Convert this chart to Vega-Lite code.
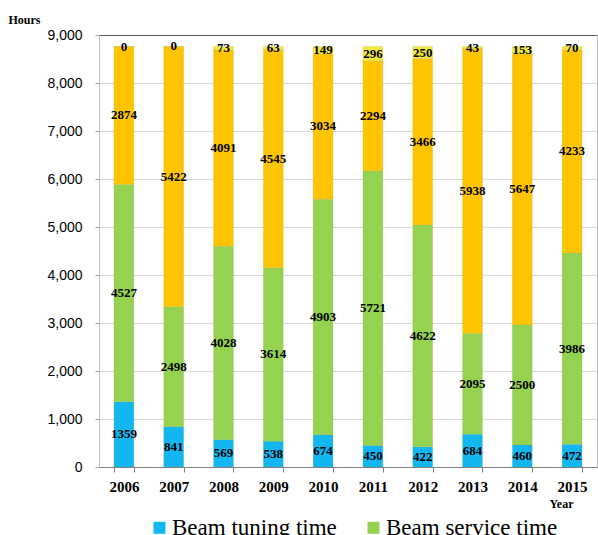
{
  "$schema": "https://vega.github.io/schema/vega-lite/v6.json",
  "width": 498,
  "height": 432,
  "autosize": {"type": "none"},
  "padding": {"left": 99, "top": 35, "right": 1, "bottom": 68},
  "background": "white",
  "config": {"view": {"stroke": null}},
  "data": {"values": [
    {"year": "2006", "k": 1, "type": "Beam tuning time", "hours": 1359},
    {"year": "2006", "k": 2, "type": "Beam service time", "hours": 4527},
    {"year": "2006", "k": 3, "type": "Shutdown time", "hours": 2874},
    {"year": "2006", "k": 4, "type": "Down time", "hours": 0},
    {"year": "2007", "k": 1, "type": "Beam tuning time", "hours": 841},
    {"year": "2007", "k": 2, "type": "Beam service time", "hours": 2498},
    {"year": "2007", "k": 3, "type": "Shutdown time", "hours": 5422},
    {"year": "2007", "k": 4, "type": "Down time", "hours": 0},
    {"year": "2008", "k": 1, "type": "Beam tuning time", "hours": 569},
    {"year": "2008", "k": 2, "type": "Beam service time", "hours": 4028},
    {"year": "2008", "k": 3, "type": "Shutdown time", "hours": 4091},
    {"year": "2008", "k": 4, "type": "Down time", "hours": 73},
    {"year": "2009", "k": 1, "type": "Beam tuning time", "hours": 538},
    {"year": "2009", "k": 2, "type": "Beam service time", "hours": 3614},
    {"year": "2009", "k": 3, "type": "Shutdown time", "hours": 4545},
    {"year": "2009", "k": 4, "type": "Down time", "hours": 63},
    {"year": "2010", "k": 1, "type": "Beam tuning time", "hours": 674},
    {"year": "2010", "k": 2, "type": "Beam service time", "hours": 4903},
    {"year": "2010", "k": 3, "type": "Shutdown time", "hours": 3034},
    {"year": "2010", "k": 4, "type": "Down time", "hours": 149},
    {"year": "2011", "k": 1, "type": "Beam tuning time", "hours": 450},
    {"year": "2011", "k": 2, "type": "Beam service time", "hours": 5721},
    {"year": "2011", "k": 3, "type": "Shutdown time", "hours": 2294},
    {"year": "2011", "k": 4, "type": "Down time", "hours": 296},
    {"year": "2012", "k": 1, "type": "Beam tuning time", "hours": 422},
    {"year": "2012", "k": 2, "type": "Beam service time", "hours": 4622},
    {"year": "2012", "k": 3, "type": "Shutdown time", "hours": 3466},
    {"year": "2012", "k": 4, "type": "Down time", "hours": 250},
    {"year": "2013", "k": 1, "type": "Beam tuning time", "hours": 684},
    {"year": "2013", "k": 2, "type": "Beam service time", "hours": 2095},
    {"year": "2013", "k": 3, "type": "Shutdown time", "hours": 5938},
    {"year": "2013", "k": 4, "type": "Down time", "hours": 43},
    {"year": "2014", "k": 1, "type": "Beam tuning time", "hours": 460},
    {"year": "2014", "k": 2, "type": "Beam service time", "hours": 2500},
    {"year": "2014", "k": 3, "type": "Shutdown time", "hours": 5647},
    {"year": "2014", "k": 4, "type": "Down time", "hours": 153},
    {"year": "2015", "k": 1, "type": "Beam tuning time", "hours": 472},
    {"year": "2015", "k": 2, "type": "Beam service time", "hours": 3986},
    {"year": "2015", "k": 3, "type": "Shutdown time", "hours": 4233},
    {"year": "2015", "k": 4, "type": "Down time", "hours": 70}
  ]},
  "layer": [
    {
      "mark": {"type": "bar", "stroke": "#9a9a60", "strokeWidth": 0.3, "strokeOpacity": 0.5},
      "encoding": {
        "x": {
          "field": "year", "type": "nominal",
          "scale": {"paddingInner": 0.6, "paddingOuter": 0.3},
          "axis": {
            "orient": "bottom", "labelAngle": 0, "tickBand": "extent",
            "domainColor": "#808080", "tickColor": "#808080", "tickSize": 5,
            "labelFont": "Liberation Serif", "labelFontWeight": "bold", "labelFontSize": 15,
            "labelColor": "black", "labelPadding": 7,
            "title": "Year", "titleFont": "Liberation Serif", "titleFontWeight": "bold",
            "titleFontSize": 12, "titleColor": "black", "titleX": 450, "titleY": 36,
            "titleAlign": "left", "titleBaseline": "middle"
          }
        },
        "y": {
          "field": "hours", "type": "quantitative", "stack": "zero",
          "scale": {"domain": [0, 9000], "nice": false},
          "axis": {
            "values": [0, 1000, 2000, 3000, 4000, 5000, 6000, 7000, 8000, 9000],
            "format": ",d", "domainColor": "#BFBFBF", "tickColor": "#A0A0A0", "tickSize": 4,
            "gridColor": "#D9D9D9", "labelFont": "Liberation Sans", "labelFontSize": 14,
            "labelColor": "black", "labelPadding": 13,
            "title": "Hours", "titleFont": "Liberation Serif", "titleFontWeight": "bold",
            "titleFontSize": 12, "titleColor": "black", "titleAngle": 0,
            "titleX": -91, "titleY": -16, "titleAlign": "left", "titleBaseline": "middle"
          }
        },
        "color": {
          "field": "type", "type": "nominal",
          "scale": {
            "domain": ["Beam tuning time", "Beam service time", "Shutdown time", "Down time"],
            "range": ["#12B6F0", "#94D250", "#FFC400", "#F0E83A"]
          },
          "legend": {
            "values": ["Beam tuning time", "Beam service time"],
            "orient": "none", "legendX": 49, "legendY": 481, "direction": "horizontal",
            "title": null, "labelFont": "Liberation Serif", "labelFontSize": 23,
            "labelColor": "black", "symbolType": "square", "symbolSize": 144,
            "symbolStrokeWidth": 0, "labelOffset": 1, "columnPadding": 25, "labelLimit": 0
          }
        },
        "order": {"field": "k", "type": "quantitative"}
      }
    },
    {
      "mark": {"type": "text", "font": "Liberation Serif", "fontWeight": "bold", "fontSize": 13, "baseline": "middle", "color": "black"},
      "encoding": {
        "x": {
          "field": "year", "type": "nominal",
          "axis": {"orient": "top", "labels": false, "ticks": false, "title": null, "domainColor": "#595959", "grid": false}
        },
        "y": {
          "field": "hours", "type": "quantitative", "stack": "zero", "bandPosition": 0.5,
          "axis": {"orient": "right", "labels": false, "title": null, "grid": false, "domainColor": "#BFBFBF", "tickColor": "#A0A0A0", "tickSize": 4,
            "values": [0, 1000, 2000, 3000, 4000, 5000, 6000, 7000, 8000, 9000]}
        },
        "text": {"field": "hours", "type": "quantitative"},
        "order": {"field": "k", "type": "quantitative"}
      }
    }
  ],
  "resolve": {"axis": {"x": "independent", "y": "independent"}}
}
